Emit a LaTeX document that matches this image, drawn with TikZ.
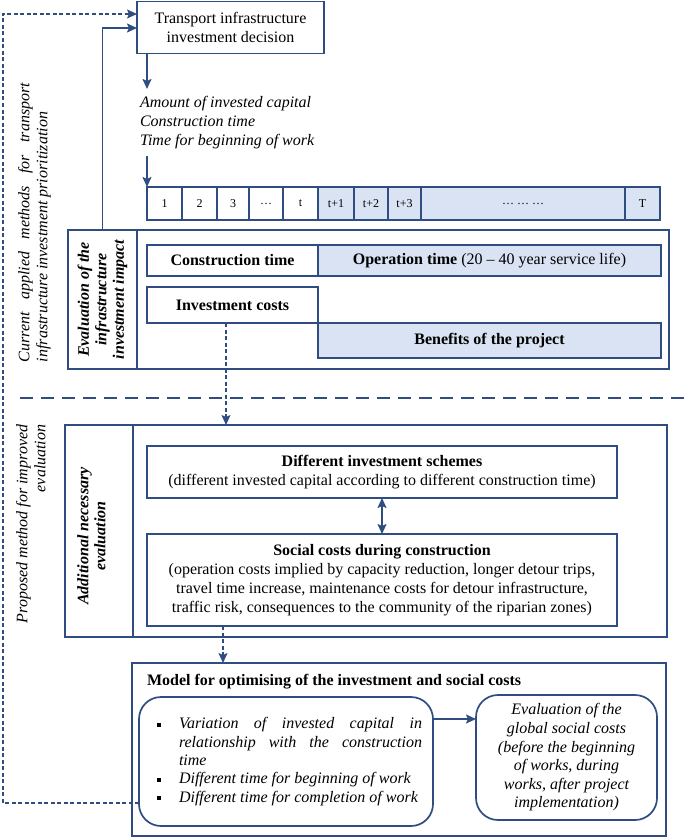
\documentclass[tikz,border=0pt]{standalone}
\usepackage{fontspec}
\setmainfont{Liberation Serif}
\usetikzlibrary{arrows.meta}
\definecolor{dblue}{RGB}{47,77,128}
\definecolor{lfill}{RGB}{218,227,243}
\newcommand{\fsz}{\fontsize{16}{19}\selectfont}
\newcommand{\sqb}{\rule[1.6pt]{4.2pt}{4.2pt}}
\begin{document}
\begin{tikzpicture}[x=1pt,y=-1pt,
  every node/.style={inner sep=0pt, outer sep=0pt, font=\fsz},
  >={Stealth[length=10pt,width=9pt,inset=2pt]},
  box/.style={draw=dblue, line width=1.7pt, fill=white, anchor=north west, align=center},
  conn/.style={draw=dblue, line width=1.7pt, ->},
  dconn/.style={conn, dash pattern=on 4pt off 2.5pt, line width=1.4pt},
  sepline/.style={draw=dblue, line width=2pt, dash pattern=on 13pt off 8pt},
  vlabel/.style={rotate=90, font=\fsz\itshape},
  rbx/.style={box, rounded corners=22pt}
]
\useasboundingbox (0,0) rectangle (685,837);

% top box and parameters
\node[box, minimum width=187, minimum height=52] (top) at (137,1.5) {Transport infrastructure\\investment decision};
\coordinate (xa) at (147,0);
\node[anchor=north west, inner ysep=7pt, align=left, font=\fsz\itshape] (par) at (140,89) {Amount of invested capital\\Construction time\\Time for beginning of work};
\draw[conn] (top.south -| xa) -- (par.north -| xa);

% timeline
\foreach \a/\b/\l/\s [count=\i] in {147/182/1/white, 182/217/2/white, 217/249/3/white, 249/283/…/white, 283/318/t/white, 318/354/t+1/lfill, 354/388/t+2/lfill, 388/421/t+3/lfill, 421/625/… … …/lfill, 625/660/T/lfill}
  \node[box, fill=\s, minimum width=\b-\a, minimum height=33, font=\fontsize{12}{14}\selectfont] (tl\i) at (\a,187) {\l};
\draw[conn] (par.south -| xa) -- (tl1.north west);

% current evaluation
\node[box, minimum width=69, minimum height=139] (evl) at (68,230) {};
\node[box, minimum width=532, minimum height=139] (evm) at (137,230) {};
\node[rotate=90, align=center, font=\fontsize{16}{17.5}\selectfont\bfseries\itshape] (evt) at (evl.center) {Evaluation of the\\infrastructure\\investment impact};
\node[box, minimum width=171, minimum height=31] (ct) at (147,245) {\textbf{Construction time}};
\node[box, fill=lfill, minimum width=343, minimum height=31] (ot) at (318,245) {\textbf{Operation time} (20 – 40 year service life)};
\node[box, minimum width=171, minimum height=36] (ic) at (147,287) {\textbf{Investment costs}};
\node[box, fill=lfill, minimum width=343, minimum height=35] (bp) at (318,323) {\textbf{Benefits of the project}};

% feedback lines to top box
\coordinate (sl) at (0,28);
\draw[conn] (evl.north) |- (top.west |- sl);

% separator
\coordinate (sepL) at (20,398);
\coordinate (sepR) at (685,398);
\draw[sepline] (sepL) -- (sepR);

% side labels
\node[vlabel, anchor=mid west] (cur1) at (27,362) {\makebox[279pt][s]{Current applied methods for transport}};
\node[vlabel, anchor=mid west] (cur2) at (45,362) {infrastructure investment prioritization};
\node[vlabel, anchor=mid west] (pro1) at (25,623) {Proposed method for improved};
\coordinate (xd) at (43,0);
\node[vlabel, anchor=mid east] (pro2) at (pro1.mid east -| xd) {evaluation};

% additional evaluation
\node[box, minimum width=68, minimum height=212] (adl) at (65,425) {};
\node[box, minimum width=534, minimum height=212] (adm) at (133,425) {};
\node[rotate=90, align=center, font=\fontsize{16}{17}\selectfont\bfseries\itshape] (adt) at (91.5,536) {Additional necessary\\evaluation};
\node[box, minimum width=470, minimum height=52] (dis) at (147,446) {\textbf{Different investment schemes}\\(different invested capital according to different construction time)};
\node[box, minimum width=470, minimum height=92] (scc) at (147,534) {\textbf{Social costs during construction}\\(operation costs implied by capacity reduction, longer detour trips,\\travel time increase, maintenance costs for detour infrastructure,\\traffic risk, consequences to the community of the riparian zones)};
\draw[conn, <->] (dis.south) -- (scc.north);
\coordinate (xb) at (226,0);
\draw[dconn] (ic.south -| xb) -- (adm.north -| xb);

% model
\node[box, minimum width=534, minimum height=173] (mod) at (132,663) {};
\coordinate (xc) at (223,0);
\draw[dconn] (scc.south -| xc) -- (mod.north -| xc);
\node[anchor=base west, font=\fsz\bfseries] (modt) at (147,685) {Model for optimising of the investment and social costs};
\node[rbx, minimum width=294, minimum height=129, align=left, font=\fontsize{16}{18.3}\selectfont\itshape] (lb) at (139,697) {%
\hspace*{7pt}\makebox[22pt][l]{\sqb}\makebox[243pt][s]{Variation of invested capital in}\\
\hspace*{29pt}\makebox[243pt][s]{relationship with the construction}\\
\hspace*{29pt}time\\
\hspace*{7pt}\makebox[22pt][l]{\sqb}Different time for beginning of work\\
\hspace*{7pt}\makebox[22pt][l]{\sqb}Different time for completion of work};
\node[rbx, minimum width=181, minimum height=125, font=\fontsize{16}{18.6}\selectfont\itshape] (rb) at (476,695) {Evaluation of the\\global social costs\\(before the beginning\\of works, during\\works, after project\\implementation)};
\coordinate (ya) at (0,719);
\draw[conn] (lb.east |- ya) -- (rb.west |- ya);

% long dashed feedback
\coordinate (dl1) at (3,803);
\coordinate (dl2) at (3,14);
\draw[dconn] (lb.west |- dl1) -- (dl1) |- (top.west |- dl2);
\end{tikzpicture}
\end{document}
